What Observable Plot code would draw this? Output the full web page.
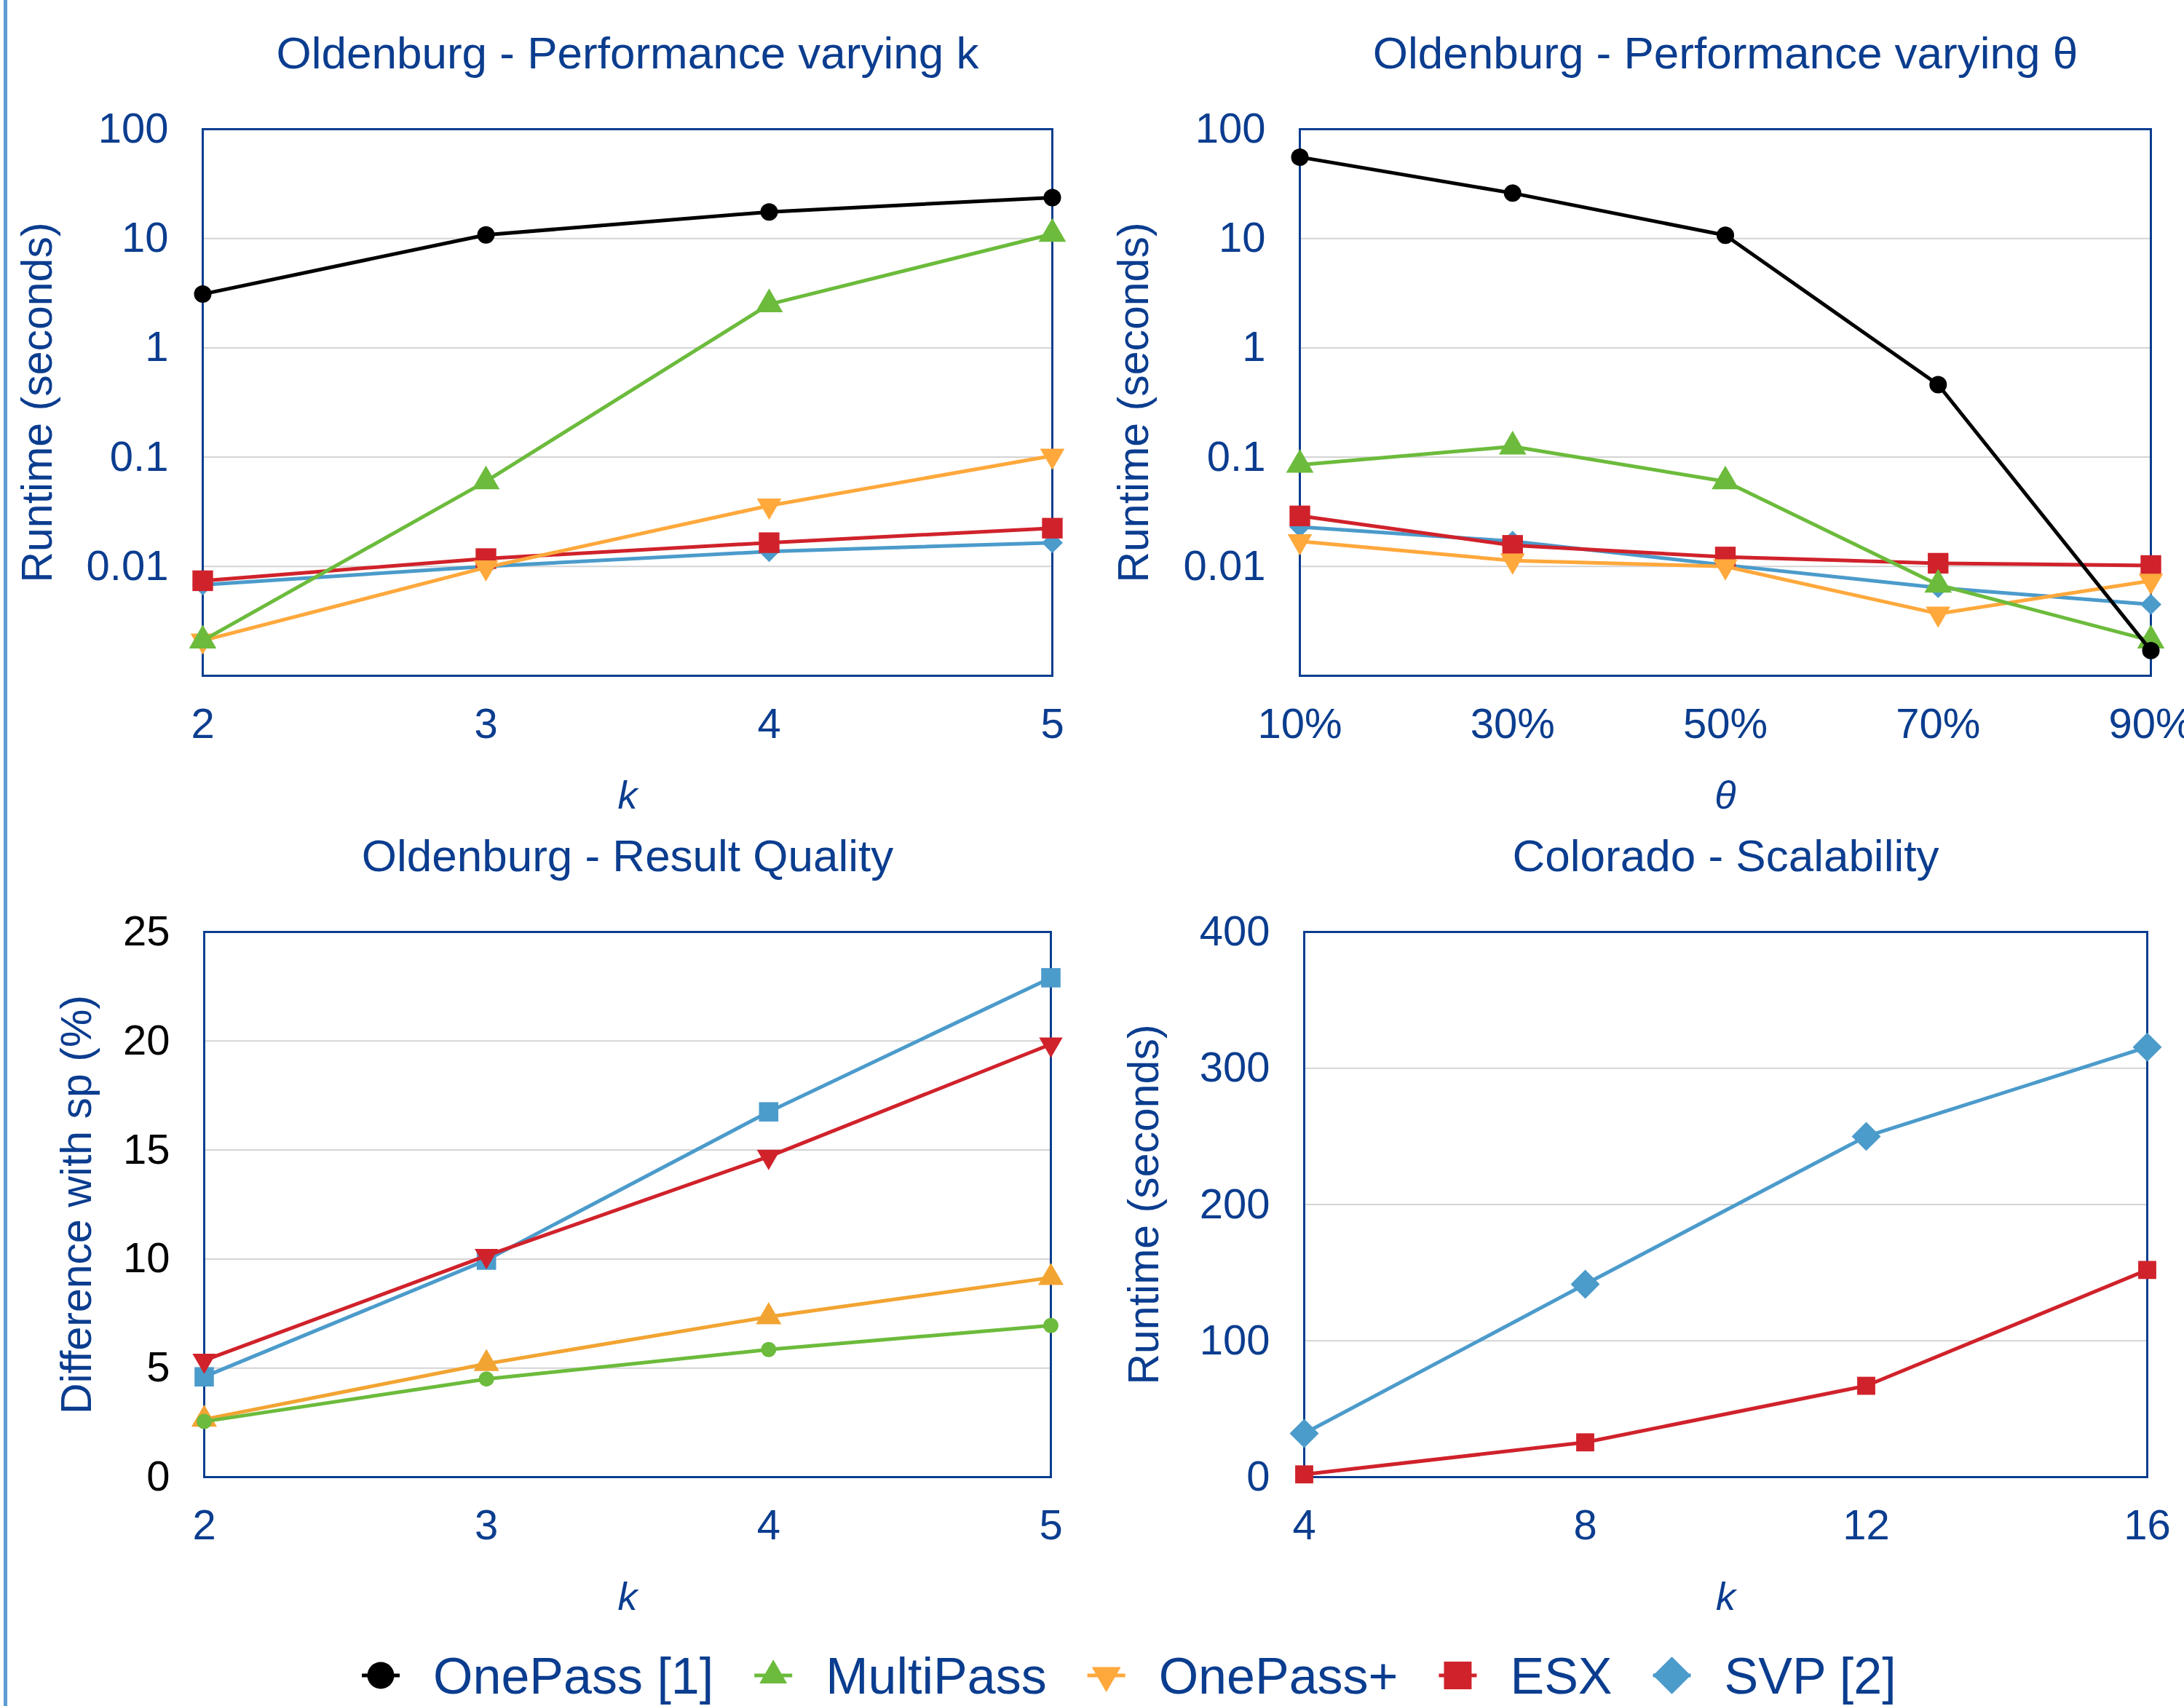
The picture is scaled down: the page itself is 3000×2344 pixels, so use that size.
<!DOCTYPE html>
<html>
<head>
<meta charset="utf-8">
<script src="https://cdn.jsdelivr.net/npm/d3@7"></script>
<script src="https://cdn.jsdelivr.net/npm/@observablehq/plot@0.6"></script>
<style>
  html, body { margin: 0; padding: 0; background: #ffffff; }
  #root { position: relative; width: 3000px; height: 2344px; overflow: hidden; background: #ffffff;
          font-family: "Liberation Sans", Arial, Helvetica, sans-serif; }
  #root svg { position: absolute; max-width: none; overflow: visible; }
  .edge { position: absolute; left: 5px; top: 0; width: 5px; height: 2344px; background: #5d9cd6; }
</style>
</head>
<body>
<div id="root"><div class="edge"></div></div>
<script>
// ---------------- DATA ----------------
// Panel 1: Oldenburg - Performance varying k (runtime, seconds, log scale)
const kValues = [2, 3, 4, 5];
const perfK_OnePass   = [3.1, 10.8, 17.5, 23.7];
const perfK_MultiPass = [0.0021, 0.06, 2.5, 11];
const perfK_OnePassPlus = [0.0021, 0.0098, 0.036, 0.103];
const perfK_ESX       = [0.0074, 0.0118, 0.0165, 0.0224];
const perfK_SVP       = [0.0068, 0.0100, 0.0137, 0.0165];

// Panel 2: Oldenburg - Performance varying θ
const thetaValues = [10, 30, 50, 70, 90];
const perfT_OnePass   = [55.5, 26, 10.7, 0.46, 0.0017];
const perfT_MultiPass = [0.085, 0.125, 0.06, 0.0068, 0.0021];
const perfT_OnePassPlus = [0.017, 0.0113, 0.0100, 0.0037, 0.0074];
const perfT_ESX       = [0.029, 0.0156, 0.0122, 0.0107, 0.0102];
const perfT_SVP       = [0.023, 0.017, 0.0103, 0.0064, 0.0045];

// Panel 3: Oldenburg - Result Quality (difference with sp, %)
const quality_circle       = [2.55, 4.5, 5.85, 6.95];
const quality_triangleUp   = [2.65, 5.2, 7.35, 9.15];
const quality_triangleDown = [5.35, 10.15, 14.7, 19.85];
const quality_square       = [4.6, 9.95, 16.75, 22.9];

// Panel 4: Colorado - Scalability
const scaleK = [4, 8, 12, 16];
const scale_SVP = [32, 141.5, 250, 315.5];
const scale_ESX = [2, 25.5, 67, 152];

// Tick values
const logTicks = [0.01, 0.1, 1, 10, 100];
const logGrid = [0.01, 0.1, 1, 10];
const qualityTicks = [0, 5, 10, 15, 20, 25];
const qualityGrid = [5, 10, 15, 20];
const scaleTicksY = [0, 100, 200, 300, 400];
const scaleGrid = [100, 200, 300];

// Legend
const legendNames = ["OnePass [1]", "MultiPass", "OnePass+", "ESX", "SVP [2]"];

// ---------------- STYLE ----------------
const FONT = '"Liberation Sans", Arial, Helvetica, sans-serif';
const BLUE = "#0b3d8f";
const GRID = "#d4d4d4";
const COL = { black: "#000000", green: "#6cbb3c", orange: "#ffa83c", red: "#d0222b", blue: "#4b9bcb", orange2: "#f2a432" };

const root = document.getElementById("root");

function seriesMarks(xs, ys, s) {
  const data = xs.map((x, i) => ({x, y: ys[i]}));
  return [
    Plot.line(data, {x: "x", y: "y", stroke: s.color, strokeWidth: 5}),
    Plot.dot(data, {x: "x", y: "y", symbol: s.symbol, r: s.r, fill: s.color, stroke: "none", rotate: s.rotate || 0})
  ];
}

function panel(cfg) {
  const {left, top, width, height, frame} = cfg;
  const [fl, fr, ft, fb] = frame;
  const chart = Plot.plot({
    width, height,
    marginLeft: fl - left, marginRight: left + width - fr,
    marginTop: ft - top, marginBottom: top + height - fb,
    x: cfg.x, y: cfg.y,
    style: {fontFamily: FONT, background: "transparent", overflow: "visible"},
    marks: [
      Plot.gridY(cfg.grid, {stroke: GRID, strokeOpacity: 1, strokeWidth: 2}),
      Plot.frame({stroke: BLUE, strokeWidth: 3}),
      Plot.axisY(cfg.yTicks, {tickFormat: cfg.yFormat, tickSize: 0, tickPadding: 47, fontSize: 58,
                              color: cfg.yTickColor, fill: cfg.yTickColor, label: null}),
      Plot.axisX(cfg.xTicks, {tickFormat: cfg.xFormat, tickSize: 0, tickPadding: 44, fontSize: 58,
                              color: BLUE, fill: BLUE, label: null}),
      ...cfg.series.flatMap(s => seriesMarks(s.xs, s.ys, s)),
      Plot.text([cfg.title], {frameAnchor: "top", lineAnchor: "bottom", dy: -84, fontSize: 62, fill: BLUE}),
      Plot.text([cfg.xLabel], {frameAnchor: "bottom", lineAnchor: "bottom", dy: 182, fontSize: 54,
                               fontStyle: "italic", fill: BLUE}),
      Plot.text([cfg.yLabel], {frameAnchor: "left", textAnchor: "middle", lineAnchor: "bottom", rotate: -90,
                               dx: cfg.yLabelDx, fontSize: 59, fill: BLUE})
    ]
  });
  chart.style.left = left + "px";
  chart.style.top = top + "px";
  chart.style.background = "transparent";
  root.appendChild(chart);
}

const fmt = d => String(d);

// Panel 1
panel({
  left: 0, top: 0, width: 1500, height: 1140, frame: [278, 1445, 177, 928],
  x: {domain: [2, 5]}, y: {type: "log", domain: [0.001, 100]},
  xTicks: kValues, xFormat: fmt, yTicks: logTicks, yFormat: fmt, yTickColor: BLUE, grid: logGrid,
  title: "Oldenburg - Performance varying k", xLabel: "k", yLabel: "Runtime (seconds)", yLabelDx: -208,
  series: [
    {xs: kValues, ys: perfK_SVP, color: COL.blue, symbol: "diamond2", r: 13},
    {xs: kValues, ys: perfK_ESX, color: COL.red, symbol: "square", r: 16},
    {xs: kValues, ys: perfK_OnePassPlus, color: COL.orange, symbol: "triangle", r: 12.5, rotate: 180},
    {xs: kValues, ys: perfK_MultiPass, color: COL.green, symbol: "triangle", r: 14},
    {xs: kValues, ys: perfK_OnePass, color: COL.black, symbol: "circle", r: 12}
  ]
});

// Panel 2
panel({
  left: 1500, top: 0, width: 1500, height: 1140, frame: [1785, 2954, 177, 928],
  x: {domain: [10, 90]}, y: {type: "log", domain: [0.001, 100]},
  xTicks: thetaValues, xFormat: d => d + "%", yTicks: logTicks, yFormat: fmt, yTickColor: BLUE, grid: logGrid,
  title: "Oldenburg - Performance varying θ", xLabel: "θ", yLabel: "Runtime (seconds)", yLabelDx: -209,
  series: [
    {xs: thetaValues, ys: perfT_SVP, color: COL.blue, symbol: "diamond2", r: 13},
    {xs: thetaValues, ys: perfT_ESX, color: COL.red, symbol: "square", r: 16},
    {xs: thetaValues, ys: perfT_OnePassPlus, color: COL.orange, symbol: "triangle", r: 12.5, rotate: 180},
    {xs: thetaValues, ys: perfT_MultiPass, color: COL.green, symbol: "triangle", r: 14},
    {xs: thetaValues, ys: perfT_OnePass, color: COL.black, symbol: "circle", r: 12}
  ]
});

// Panel 3
panel({
  left: 0, top: 1140, width: 1500, height: 1110, frame: [280, 1443, 1280, 2029],
  x: {domain: [2, 5]}, y: {domain: [0, 25]},
  xTicks: kValues, xFormat: fmt, yTicks: qualityTicks, yFormat: fmt, yTickColor: "#000000", grid: qualityGrid,
  title: "Oldenburg - Result Quality", xLabel: "k", yLabel: "Difference with sp (%)", yLabelDx: -156,
  series: [
    {xs: kValues, ys: quality_square, color: COL.blue, symbol: "square", r: 15},
    {xs: kValues, ys: quality_triangleDown, color: COL.red, symbol: "triangle", r: 12, rotate: 180},
    {xs: kValues, ys: quality_triangleUp, color: COL.orange2, symbol: "triangle", r: 13},
    {xs: kValues, ys: quality_circle, color: COL.green, symbol: "circle", r: 10.5}
  ]
});

// Panel 4
panel({
  left: 1500, top: 1140, width: 1500, height: 1110, frame: [1791, 2949, 1280, 2029],
  x: {domain: [4, 16]}, y: {domain: [0, 400]},
  xTicks: scaleK, xFormat: fmt, yTicks: scaleTicksY, yFormat: fmt, yTickColor: BLUE, grid: scaleGrid,
  title: "Colorado - Scalability", xLabel: "k", yLabel: "Runtime (seconds)", yLabelDx: -201,
  series: [
    {xs: scaleK, ys: scale_SVP, color: COL.blue, symbol: "diamond2", r: 18},
    {xs: scaleK, ys: scale_ESX, color: COL.red, symbol: "square", r: 14}
  ]
});

// ---------------- LEGEND ----------------
const legendStyles = [
  {color: COL.black, type: d3.symbolCircle, size: 1075, rotate: 0},
  {color: COL.green, type: d3.symbolTriangle, size: 620, rotate: 0},
  {color: COL.orange, type: d3.symbolTriangle, size: 690, rotate: 180},
  {color: COL.red, type: d3.symbolSquare, size: 1440, rotate: 0},
  {color: COL.blue, type: d3.symbolDiamond2, size: 1700, rotate: 0}
];
const LEG_TOP = 2220;
const legCy = 2302 - LEG_TOP, legBase = 2327 - LEG_TOP;
const leg = d3.create("svg").attr("width", 3000).attr("height", 2344 - LEG_TOP)
  .style("left", "0px").style("top", LEG_TOP + "px").style("font-family", FONT);
root.appendChild(leg.node());
let cx = 523;
legendNames.forEach((name, i) => {
  const st = legendStyles[i];
  const g = leg.append("g");
  g.append("line").attr("x1", cx - 26).attr("x2", cx + 26).attr("y1", legCy).attr("y2", legCy)
    .attr("stroke", st.color).attr("stroke-width", 5);
  g.append("path").attr("d", d3.symbol(st.type, st.size)())
    .attr("transform", `translate(${cx},${legCy}) rotate(${st.rotate})`).attr("fill", st.color);
  const t = g.append("text").attr("x", cx + 72).attr("y", legBase).attr("font-size", 70).attr("fill", BLUE).text(name);
  const w = t.node().getComputedTextLength();
  cx = cx + 72 + w + 56 + 26;
});
</script>
</body>
</html>
